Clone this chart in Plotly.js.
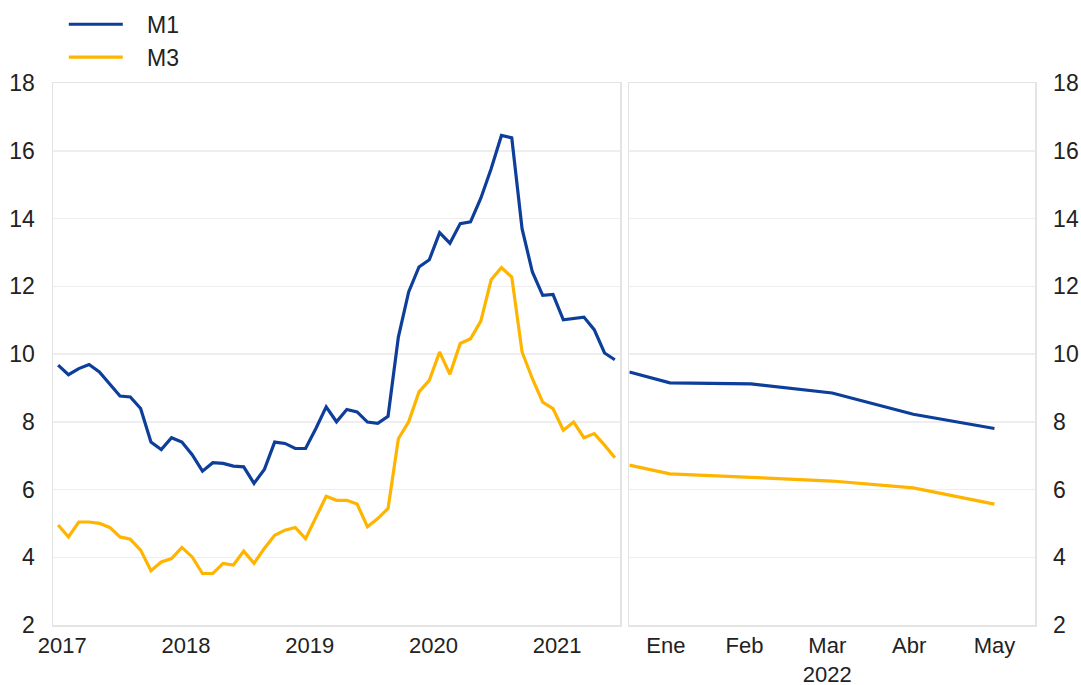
<!DOCTYPE html>
<html><head><meta charset="utf-8">
<script src="https://cdn.plot.ly/plotly-3.0.1.min.js"></script>
<style>html,body{margin:0;padding:0;background:#fff}#chart{width:1081px;height:685px}</style>
</head><body><div id="chart"></div>
<script>
// Historical monthly growth (left panel), one value per month
const m1Hist = [9.67,9.39,9.57,9.69,9.47,9.13,8.76,8.73,8.39,7.40,7.18,7.53,7.40,7.03,6.54,6.79,6.77,6.69,6.67,6.18,6.59,7.40,7.36,7.21,7.21,7.80,8.44,8.00,8.36,8.29,7.99,7.95,8.16,10.50,11.83,12.57,12.78,13.58,13.27,13.85,13.90,14.60,15.47,16.45,16.38,13.70,12.42,11.73,11.76,11.01,11.04,11.09,10.72,10.03,9.83];
const m3Hist = [4.95,4.60,5.04,5.04,5.00,4.88,4.60,4.53,4.21,3.60,3.86,3.96,4.29,4.01,3.52,3.52,3.82,3.77,4.18,3.82,4.26,4.65,4.80,4.88,4.55,5.19,5.80,5.68,5.68,5.57,4.90,5.14,5.44,7.50,8.00,8.88,9.22,10.06,9.40,10.31,10.45,10.97,12.19,12.55,12.27,10.06,9.27,8.58,8.39,7.75,7.99,7.53,7.65,7.31,6.94];
const histIndex = m1Hist.map((v, i) => i);
const yearLabels = ['2017','2018','2019','2020','2021'];
const yearTickPos = [0.4,12.4,24.4,36.4,48.4];

// 2022 panel (start point plus Ene..May)
const monthX = [-0.5,0,1,2,3,4];
const m1_2022 = [9.47,9.15,9.12,8.85,8.22,7.80];
const m3_2022 = [6.72,6.46,6.36,6.25,6.05,5.57];
const monthLabels = ['Ene','Feb','Mar<br>2022','Abr','May'];
const monthTickPos = [-0.05,0.92,1.94,2.95,4.0];

const yTicks = [2,4,6,8,10,12,14,16,18];
const seriesNames = ['M1','M3'];

const BLUE = '#0d3f9a', YELLOW = '#ffb400';
const FONT = {family:'"Liberation Sans", Arial, sans-serif', size:23, color:'#222'};
const XFONT = {family:'"Liberation Sans", Arial, sans-serif', size:22, color:'#222'};
const FRAME = '#e4e4e4', GRID = '#eeeeee';
const PAD = '\u00a0\u00a0\u00a0';

const traces = [
  {x:histIndex, y:m1Hist, type:'scatter', mode:'lines', name:PAD + seriesNames[0], line:{color:BLUE, width:3.2}, xaxis:'x', yaxis:'y'},
  {x:histIndex, y:m3Hist, type:'scatter', mode:'lines', name:PAD + seriesNames[1], line:{color:YELLOW, width:3.2}, xaxis:'x', yaxis:'y'},
  {x:monthX, y:m1_2022, type:'scatter', mode:'lines', name:seriesNames[0], showlegend:false, line:{color:BLUE, width:3.2}, xaxis:'x2', yaxis:'y2'},
  {x:monthX, y:m3_2022, type:'scatter', mode:'lines', name:seriesNames[1], showlegend:false, line:{color:YELLOW, width:3.2}, xaxis:'x2', yaxis:'y2'}
];

const axBase = {showline:true, mirror:true, linecolor:FRAME, linewidth:1.5, zeroline:false, ticks:'', tickfont:FONT, fixedrange:true};
const layout = {
  width:1081, height:685,
  margin:{l:53, r:46, t:82.5, b:60, autoexpand:false},
  paper_bgcolor:'#fff', plot_bgcolor:'#fff',
  font:FONT,
  showlegend:true,
  legend:{x:0.011, y:1.148, xanchor:'left', yanchor:'top', font:FONT, bgcolor:'rgba(0,0,0,0)', itemwidth:54, tracegroupgap:0},
  xaxis:Object.assign({}, axBase, {domain:[0,0.5774], range:[-0.5,54.5], tickvals:yearTickPos, ticktext:yearLabels, tickfont:XFONT, showgrid:false, anchor:'y'}),
  yaxis:Object.assign({}, axBase, {range:[2,18], tickvals:yTicks, showgrid:true, gridcolor:GRID, gridwidth:1.5, anchor:'x', ticklabelstandoff:12}),
  xaxis2:Object.assign({}, axBase, {domain:[0.5869,1], range:[-0.5,4.5], tickvals:monthTickPos, ticktext:monthLabels, tickfont:XFONT, showgrid:false, anchor:'y2'}),
  yaxis2:Object.assign({}, axBase, {range:[2,18], tickvals:yTicks, showgrid:true, gridcolor:GRID, gridwidth:1.5, anchor:'x2', side:'right', ticklabelstandoff:12})
};
Plotly.newPlot('chart', traces, layout, {displayModeBar:false, staticPlot:true});
</script></body></html>
